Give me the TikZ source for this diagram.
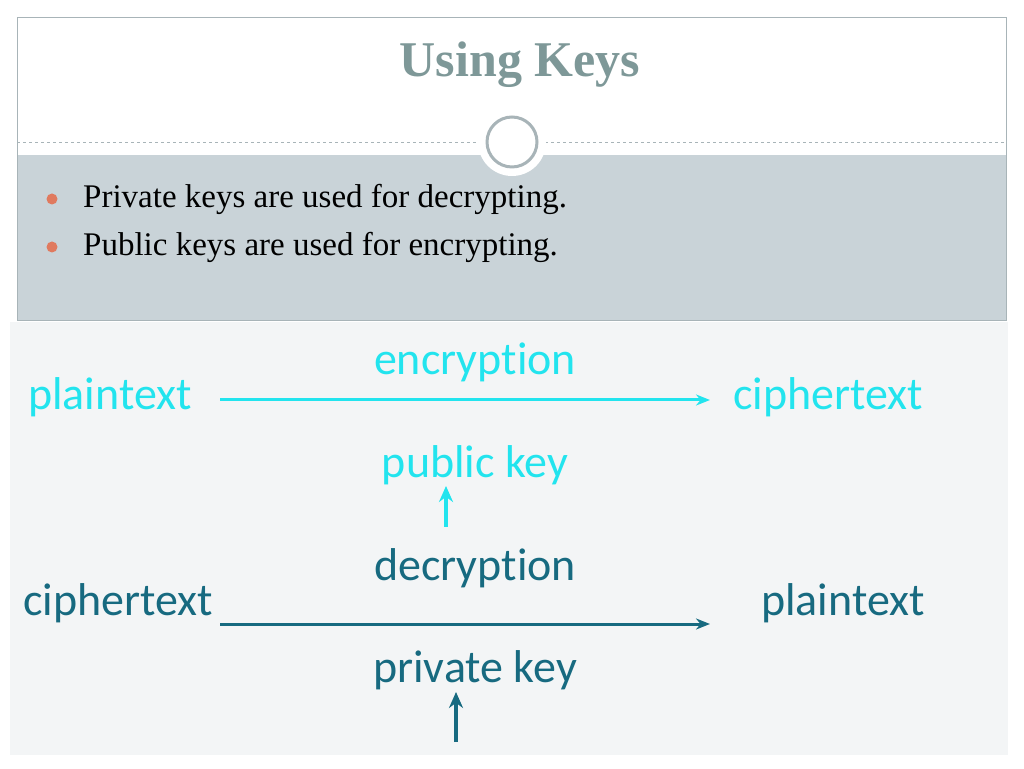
\documentclass[tikz,border=0pt]{standalone}
\usetikzlibrary{arrows.meta}
\usepackage{fontspec}
\setmainfont{Liberation Serif}
\newfontfamily\diag[Ligatures=NoCommon]{Carlito}
\definecolor{bandc}{HTML}{C9D3D8}
\definecolor{framec}{HTML}{A8B4B8}
\definecolor{titlec}{HTML}{7E9898}
\definecolor{bulc}{HTML}{E07A5F}
\definecolor{cyanc}{HTML}{22E4EE}
\definecolor{darkc}{HTML}{176A80}
\definecolor{imgbg}{HTML}{F3F5F6}
\tikzset{
  cy/.style={text=cyanc,font=\diag\fontsize{46}{50}\selectfont,inner sep=0pt},
  dk/.style={text=darkc,font=\diag\fontsize{46}{50}\selectfont,inner sep=0pt},
  bul/.style={anchor=west,font=\fontsize{33}{37}\selectfont,inner sep=0pt},
  arr/.style={line width=3pt,-{Stealth[length=14pt,width=11pt]}},
  varr/.style={line width=4.5pt,-{Stealth[length=16pt,width=14pt]}}
}
\begin{document}
\begin{tikzpicture}[x=1pt,y=1pt]
\useasboundingbox (0,0) rectangle (1024,768);
\fill[white] (0,0) rectangle (1024,768);
% frame
\fill[bandc] (17,448) rectangle (1006,613);
\draw[framec,line width=0.8pt] (17,448) rectangle (1006,751);
\draw[framec,dashed,line width=0.6pt] (17,626) -- (1006,626);
\node[circle,fill=white,minimum size=68pt,inner sep=0pt] (c1) at (512,626) {};
\node[circle,draw=framec,line width=3pt,minimum size=50pt,inner sep=0pt] (c2) at (512,626) {};
\node[font=\bfseries\fontsize{50}{54}\selectfont,text=titlec] (title) at (520,703) {Using Keys};
\fill[bulc] (52,569) circle (5.5pt);
\fill[bulc] (52,521) circle (5.5pt);
\node[bul] (b1) at (83,569) {Private keys are used for decrypting.};
\node[bul] (b2) at (83,521) {Public keys are used for encrypting.};
% image
\fill[imgbg] (10,13) rectangle (1008,446);
% encryption
\node[cy] (enc) at (475,406) {encryption};
\node[cy] (p1) at (110,371) {plaintext};
\node[cy] (c1t) at (828,371) {ciphertext};
\node[cy] (pub) at (475,303) {public key};
\coordinate (a1s) at (220,368);
\coordinate (a1e) at (710,368);
\draw[arr,cyanc] (a1s) -- (a1e);
\coordinate (u1s) at (446,241);
\coordinate (u1e) at (446,282);
\draw[varr,cyanc] (u1s) -- (u1e);
% decryption
\node[dk] (dec) at (475,200) {decryption};
\node[dk] (c2t) at (118,165) {ciphertext};
\node[dk] (p2) at (843,165) {plaintext};
\node[dk] (priv) at (475,98) {private key};
\coordinate (a2s) at (220,144);
\coordinate (a2e) at (710,144);
\draw[arr,darkc] (a2s) -- (a2e);
\coordinate (u2s) at (456,26);
\coordinate (u2e) at (456,76);
\draw[varr,darkc] (u2s) -- (u2e);
\end{tikzpicture}
\end{document}
